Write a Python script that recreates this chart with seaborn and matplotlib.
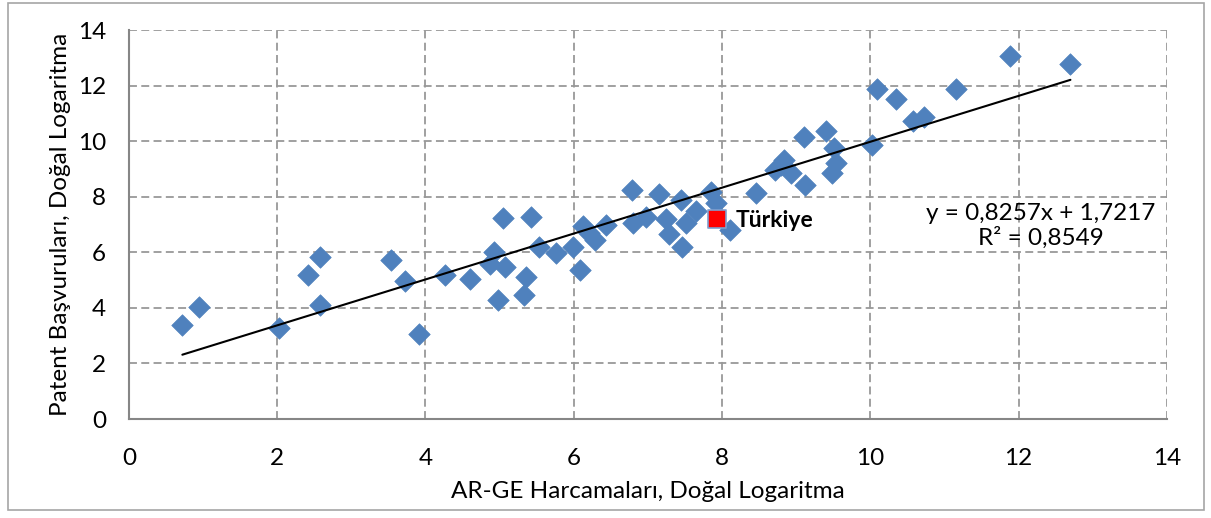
import numpy as np
import pandas as pd
import matplotlib
matplotlib.use("Agg")
import matplotlib.pyplot as plt
import matplotlib.patches as mpatches
import seaborn as sns

# -- Datos ----------------------------------------------------------------------
arge_x = [0.72, 0.94, 2.02, 2.42, 2.58, 2.58, 3.53, 3.73, 3.91, 4.26,
          4.60, 4.93, 4.87, 5.07, 4.98, 5.04, 5.42, 5.36, 5.33, 5.53,
          5.76, 5.99, 6.09, 6.12, 6.28, 6.21, 6.44, 6.79, 6.80, 6.97,
          7.15, 7.25, 7.28, 7.44, 7.46, 7.52, 7.65, 7.85, 7.92, 8.11,
          8.46, 8.72, 8.80, 8.84, 8.93, 9.11, 9.12, 9.40, 9.51, 9.54,
          9.49, 10.02, 10.09, 10.35, 10.57, 10.73, 11.15, 11.89, 12.70]
patent_y = [3.40, 4.05, 3.27, 5.19, 5.84, 4.12, 5.72, 4.98, 3.06, 5.20,
            5.04, 6.02, 5.58, 5.48, 4.27, 7.22, 7.28, 5.10, 4.48, 6.21,
            5.97, 6.20, 5.36, 6.95, 6.44, 6.71, 6.99, 8.23, 7.07, 7.28,
            8.09, 7.19, 6.66, 7.87, 6.18, 7.04, 7.49, 8.18, 7.79, 6.80,
            8.15, 8.98, 9.16, 9.34, 8.86, 10.14, 8.42, 10.38, 9.76, 9.22,
            8.86, 9.88, 11.87, 11.52, 10.72, 10.86, 11.87, 13.08, 12.78]

turkiye_x = [7.93]
turkiye_y = [7.19]

# trend line (Excel)
egim = 0.8257
sabit = 1.7217
r2 = 0.8549

x_ticks = [0, 2, 4, 6, 8, 10, 12, 14]
y_ticks = [0, 2, 4, 6, 8, 10, 12, 14]

df = pd.DataFrame({"arge": arge_x, "patent": patent_y})
df_tr = pd.DataFrame({"arge": turkiye_x, "patent": turkiye_y})

sns.set_theme(style="white")
plt.rcParams["font.family"] = ["Lato", "DejaVu Sans"]
plt.rcParams["text.color"] = "black"
plt.rcParams["axes.labelcolor"] = "black"
plt.rcParams["xtick.labelcolor"] = "black"
plt.rcParams["ytick.labelcolor"] = "black"

MAVI = "#4F81BD"
GRI = "#868686"
FS = 17.5

fig = plt.figure(figsize=(12.11, 5.18), dpi=100)
ax = fig.add_axes([0.1065, 0.191, 0.857, 0.751])

# grid first
ax.set_axisbelow(True)
ax.grid(True, linestyle=(0, (4.4, 2.4)), color="#999999", linewidth=1.3)

sns.scatterplot(data=df, x="arge", y="patent", marker="D", s=120,
                color=MAVI, edgecolor=MAVI, linewidth=0.5, ax=ax, zorder=3)

# regresyon çizgisi
x_line = np.array([min(arge_x), max(arge_x)])
ax.plot(x_line, egim * x_line + sabit, color="black", linewidth=1.5, zorder=4)

sns.scatterplot(data=df_tr, x="arge", y="patent", marker="s", s=170,
                color="#FF0000", edgecolor="#7F9FCF", linewidth=1.2, ax=ax, zorder=5)
ax.text(turkiye_x[0] + 0.25, turkiye_y[0] - 0.05, "Türkiye", fontsize=16.5,
        fontweight="bold", va="center", ha="left", zorder=6)

denklem = f"y = {egim:.4f}x + {sabit:.4f}".replace(".", ",")
r2_txt = f"R² = {r2:.4f}".replace(".", ",")
ax.text(12.3, 6.95, denklem + "\n" + r2_txt, fontsize=FS, ha="center",
        va="center", linespacing=1.2)

ax.set_xlim(0, 14)
ax.set_ylim(0, 14)
ax.set_xticks(x_ticks)
ax.set_yticks(y_ticks)
ax.tick_params(axis="both", which="major", direction="out", length=4.5,
               width=1.2, color=GRI, labelsize=FS)
ax.tick_params(axis="x", pad=16)
ax.tick_params(axis="y", pad=12)

for s in ["top", "right"]:
    ax.spines[s].set_visible(False)
for s in ["left", "bottom"]:
    ax.spines[s].set_color(GRI)
    ax.spines[s].set_linewidth(1.5)

ax.set_xlabel("AR-GE Harcamaları, Doğal Logaritma", fontsize=FS, labelpad=9)
ax.set_ylabel("Patent Başvuruları, Doğal Logaritma", fontsize=FS, labelpad=5)

# dış çerçeve
fig.patches.append(mpatches.Rectangle((0.007, 0.015), 0.987, 0.98,
                                      transform=fig.transFigure, fill=False,
                                      edgecolor="#A6A6A6", linewidth=1.2))

fig.savefig("out.png", dpi=100)
plt.close()
